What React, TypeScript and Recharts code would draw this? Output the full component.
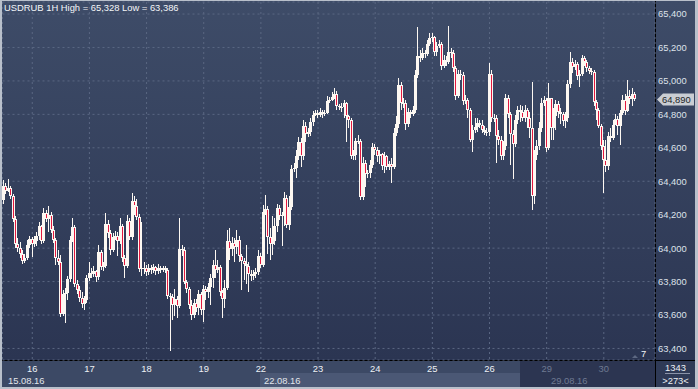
import { Bar, CartesianGrid, ComposedChart, XAxis, YAxis } from 'recharts';

// hourly USDRUB candles, 15.08 (from 12:00) to 30.08 (till 13:00)
const dayLabels = ['15', '16', '17', '18', '19', '22', '23', '24', '25', '26', '29', '30'];
const candlesPerDay = [12, 24, 24, 24, 24, 24, 24, 24, 24, 24, 24, 14];
const firstHour = [12, 0, 0, 0, 0, 0, 0, 0, 0, 0, 0, 0];

const firstOpen = 64288;

const closes = [
	64372, 64342, 64360, 64312, 64175, 64025, 64001, 63965, 63923, 63941, 64019, 64055,
	64025, 64043, 64073, 64133, 64043, 64210, 64175, 64199, 64109, 64049, 63941, 63918, 63607, 63726, 63732, 63816, 64049, 64127, 63786, 63750, 63702, 63666, 63690, 63822,
	63852, 63846, 63864, 63828, 63977, 63888, 63894, 64145, 64091, 63989, 64067, 64073, 64043, 64133, 63941, 63894, 64163, 64067, 64282, 64252, 64187, 63876, 63882, 63882,
	63858, 63882, 63870, 63888, 63864, 63882, 63870, 63882, 63870, 63714, 63708, 63660, 63696, 63654, 63995, 63989, 63798, 63756, 63660, 63601, 63672, 63642, 63726, 63631,
	63756, 63738, 63768, 63822, 63900, 63870, 63888, 63738, 63696, 63762, 64043, 63995, 64031, 64007, 64049, 63953, 63923, 63906, 63894, 63846, 63834, 63846, 63858, 63953,
	63900, 64216, 64234, 64067, 64025, 64043, 64133, 64240, 64193, 64199, 64300, 64139, 64246, 64474, 64480, 64551, 64635, 64551, 64731, 64683, 64695, 64755, 64796, 64808,
	64796, 64814, 64802, 64808, 64880, 64886, 64904, 64922, 64850, 64844, 64844, 64868, 64790, 64767, 64551, 64557, 64641, 64641, 64306, 64509, 64444, 64450, 64497, 64605,
	64587, 64551, 64563, 64491, 64551, 64486, 64503, 64486, 64689, 64743, 64976, 64868, 64868, 64743, 64814, 64802, 64826, 65036, 65149, 65137, 65167, 65161, 65221, 65257,
	65263, 65173, 65209, 65221, 65089, 65125, 65113, 65173, 65167, 65077, 64910, 65042, 65036, 64880, 64886, 64826, 64647, 64706, 64725, 64749, 64737, 64706, 64695, 64695,
	65042, 64778, 64778, 64671, 64647, 64551, 64611, 64898, 64802, 64683, 64623, 64767, 64826, 64814, 64778, 64826, 64778, 64719, 64312, 64557, 64611, 64719, 64868, 64886,
	64599, 64898, 64719, 64790, 64862, 64814, 64802, 64761, 64778, 64982, 65113, 65083, 65101, 65030, 65042, 65137, 65113, 65077, 65059, 65054, 64874, 64826, 64731, 64611,
	64527, 64491, 64671, 64659, 64737, 64772, 64731, 64808, 64886, 64820, 64910, 64892, 64922, 64890
];

const highs = [
	64408, 64390, 64414, 64372, 64324, 64193, 64061, 64037, 63989, 63965, 64049, 64073,
	64067, 64073, 64097, 64157, 64139, 64240, 64228, 64252, 64216, 64133, 64061, 63989, 63959, 63750, 63762, 63834, 64073, 64181, 64139, 63810, 63774, 63738, 63714, 63840,
	63918, 63882, 63894, 63870, 64019, 63989, 63918, 64210, 64169, 64109, 64091, 64103, 64097, 64181, 64145, 63959, 64199, 64181, 64330, 64312, 64294, 64204, 64157, 63918,
	63900, 63906, 63900, 63906, 63894, 63906, 63894, 63894, 63894, 63882, 63732, 63726, 63756, 63714, 64181, 64019, 64007, 63810, 63768, 63690, 63696, 63696, 63750, 63738,
	63780, 63774, 63792, 63846, 63929, 63989, 63929, 63900, 63750, 63810, 64109, 64121, 64067, 64061, 64109, 64073, 63965, 63941, 64019, 63918, 63870, 63870, 63882, 63989,
	63971, 64258, 64318, 64252, 64121, 64193, 64181, 64264, 64258, 64216, 64336, 64318, 64312, 64497, 64509, 64587, 64665, 64659, 64767, 64755, 64719, 64778, 64820, 64826,
	64826, 64838, 64826, 64826, 64910, 64904, 64934, 64958, 64940, 64862, 64868, 64886, 64874, 64796, 64778, 64587, 64659, 64677, 64653, 64545, 64527, 64467, 64527, 64629,
	64623, 64605, 64587, 64569, 64575, 64557, 64521, 64539, 64719, 64790, 65018, 64994, 64898, 64886, 64838, 64826, 64850, 65065, 65323, 65185, 65197, 65185, 65245, 65287,
	65287, 65269, 65233, 65245, 65233, 65155, 65149, 65328, 65197, 65185, 65089, 65065, 65065, 65054, 64916, 64898, 64838, 64737, 64778, 64778, 64767, 64767, 64731, 64719,
	65107, 65065, 64802, 64796, 64706, 64671, 64641, 64922, 64916, 64814, 64706, 64796, 64850, 64856, 64850, 64856, 64838, 64814, 64994, 64587, 64647, 64755, 64898, 64910,
	64898, 64988, 64826, 64838, 64886, 64880, 64838, 64814, 64814, 65006, 65173, 65137, 65125, 65113, 65065, 65155, 65149, 65125, 65089, 65077, 65065, 64886, 64838, 64743,
	64647, 64647, 64695, 64719, 64767, 64802, 64790, 64826, 64916, 64922, 65006, 64946, 64958, 64934
];

const lows = [
	64264, 64324, 64336, 64294, 64157, 64001, 63977, 63941, 63906, 63912, 63929, 64001,
	63947, 64007, 64013, 64049, 64025, 64031, 64157, 64097, 64091, 64031, 63900, 63900, 63589, 63595, 63553, 63690, 63798, 64037, 63768, 63726, 63678, 63642, 63631, 63672,
	63804, 63822, 63828, 63798, 63810, 63870, 63864, 63882, 64061, 63959, 63977, 64049, 63953, 64025, 63918, 63822, 63882, 64049, 64049, 64200, 64169, 63858, 63834, 63846,
	63834, 63840, 63846, 63852, 63840, 63846, 63852, 63858, 63852, 63696, 63386, 63570, 63595, 63583, 63642, 63953, 63786, 63732, 63636, 63570, 63583, 63619, 63601, 63601,
	63559, 63690, 63702, 63660, 63762, 63822, 63852, 63714, 63583, 63642, 63750, 63929, 63953, 63918, 63965, 63918, 63750, 63810, 63786, 63738, 63804, 63810, 63822, 63839,
	63882, 63888, 64199, 63965, 63929, 63959, 64019, 64097, 64169, 64013, 64133, 64121, 64109, 64228, 64456, 64420, 64527, 64485, 64527, 64635, 64665, 64671, 64731, 64790,
	64778, 64784, 64778, 64790, 64802, 64868, 64880, 64892, 64826, 64826, 64814, 64778, 64635, 64719, 64533, 64527, 64527, 64623, 64288, 64288, 64366, 64420, 64420, 64480,
	64557, 64515, 64503, 64467, 64450, 64467, 64467, 64390, 64474, 64671, 64719, 64826, 64838, 64706, 64725, 64778, 64790, 64808, 65018, 65113, 65125, 65137, 65149, 65209,
	65233, 65149, 65149, 65197, 65065, 65077, 65089, 65101, 65137, 65054, 64886, 64898, 65006, 64856, 64862, 64778, 64635, 64575, 64689, 64695, 64719, 64689, 64677, 64671,
	64671, 64754, 64754, 64509, 64617, 64527, 64527, 64587, 64778, 64497, 64414, 64605, 64743, 64754, 64760, 64754, 64719, 64659, 64228, 64264, 64527, 64587, 64695, 64850,
	64575, 64587, 64647, 64647, 64706, 64778, 64743, 64731, 64719, 64754, 64958, 65048, 65065, 65006, 64964, 65030, 65089, 65054, 65042, 65036, 64850, 64766, 64719, 64587,
	64330, 64456, 64467, 64635, 64647, 64743, 64677, 64617, 64796, 64796, 64814, 64862, 64850, 64880
];

const priceTicks = [63400, 63600, 63800, 64000, 64200, 64400, 64600, 64800, 65000, 65200, 65400];
const lastPrice = 64890;
const emptySlots = 8; // free space right of the last candle

const FONT = '"Liberation Sans", Arial, sans-serif';
const WHITE = '#fdf8f2';
const RED = '#e3173e';

type Candle = { key: string; day?: string; hour?: number; o?: number; c?: number; h?: number; l?: number };

function buildCandles(): Candle[] {
	const rows: Candle[] = [];
	let n = 0;
	dayLabels.forEach((day, d) => {
		for (let k = 0; k < candlesPerDay[d]; k++) {
			const o = n === 0 ? firstOpen : closes[n - 1];
			const c = closes[n];
			const hour = firstHour[d] + k;
			rows.push({
				key: `${day}-${hour}`,
				day,
				hour,
				o,
				c,
				h: Math.max(highs[n], o, c),
				l: Math.min(lows[n], o, c)
			});
			n++;
		}
	});
	for (let k = 0; k < emptySlots; k++) {
		rows.push({ key: `empty${k}` });
	}
	return rows;
}

const candles = buildCandles();
const dayTicks = candles.filter((d) => d.hour === 0).map((d) => d.key);

function CandleShape(props: any) {
	const { x, y, width, height, payload } = props;
	if (!payload || payload.h == null || !height) {
		return null;
	}
	const { o, c, h, l } = payload;
	const k = height / (h - l);
	const yOf = (v: number) => y + (h - v) * k;
	const cx = Math.floor(x + width / 2);
	const top = Math.round(yOf(Math.max(o, c)));
	const bottom = Math.max(Math.round(yOf(Math.min(o, c))), top + 1);
	const wickTop = Math.round(y);
	const wickBottom = Math.max(Math.round(y + height), wickTop + 1);
	const bear = c < o;

	return (
		<g shapeRendering="crispEdges">
			<rect x={cx} y={wickTop} width={1} height={wickBottom - wickTop} fill={WHITE} />
			<rect x={cx - 1} y={top} width={3} height={bottom - top} fill={WHITE} />
			{bear && bottom - top > 2 ? (
				<rect x={cx} y={top + 1} width={1} height={bottom - top - 2} fill={RED} />
			) : null}
		</g>
	);
}

function DayTick({ x, payload }: any) {
	const day = String(payload.value).split('-')[0];
	const dim = day === '29' || day === '30';
	return (
		<text x={x} y={372} textAnchor="middle" fill={dim ? '#6f7a92' : '#eef1f5'} fontSize={9.4} fontFamily={FONT}>
			{day}
		</text>
	);
}

function PriceTick({ y, payload }: any) {
	return (
		<text x={658} y={y + 3.4} fill="#dde2ea" fontSize={9.4} fontFamily={FONT}>
			{Number(payload.value).toLocaleString('en-US')}
		</text>
	);
}

const abs = (left: number, top: number, width: number, height: number, background: string) => ({
	position: 'absolute' as const,
	left,
	top,
	width,
	height,
	background
});

const label = (left: number, top: number, color: string) => ({
	position: 'absolute' as const,
	left,
	top,
	color,
	fontSize: 9.4,
	fontFamily: FONT,
	lineHeight: '11px',
	whiteSpace: 'nowrap' as const
});

export default function App() {
	return (
		<div
			style={{
				position: 'fixed',
				left: 0,
				top: 0,
				width: 698,
				height: 389,
				overflow: 'hidden',
				background: '#b9c0cb'
			}}
		>
			<div style={abs(2, 1, 653, 359, 'linear-gradient(#3e4c68, #2b3552)')} />
			<div style={abs(656, 1, 39, 359, 'linear-gradient(#3e4c68, #2b3552)')} />
			<div style={abs(2, 361, 653, 26, '#3c4965')} />
			<div style={abs(260, 373, 260, 14, '#4b5875')} />
			<div style={abs(520, 361, 135, 26, '#2c3551')} />
			<div style={abs(656, 361, 39, 26, '#2f3a56')} />
			<div style={abs(2, 360, 693, 1, '#000')} />
			<div style={abs(655, 1, 1, 386, '#000')} />

			<div style={{ position: 'absolute', left: 0, top: 0 }}>
				<ComposedChart
					width={698}
					height={389}
					data={candles}
					margin={{ top: 2, right: 0, bottom: 0, left: 2.5 }}
					barCategoryGap={0}
					barGap={0}
				>
					<CartesianGrid stroke="#5a6782" strokeDasharray="2 3" />
					<XAxis
						dataKey="key"
						ticks={dayTicks}
						interval={0}
						height={29}
						axisLine={false}
						tickLine={false}
						tick={<DayTick />}
					/>
					<YAxis
						orientation="right"
						type="number"
						domain={[63331, 65472]}
						allowDataOverflow
						ticks={priceTicks}
						width={43}
						axisLine={false}
						tickLine={false}
						tick={<PriceTick />}
					/>
					<Bar
						dataKey={(d: Candle) => (d.h == null ? null : [d.l, d.h])}
						shape={<CandleShape />}
						isAnimationActive={false}
					/>
				</ComposedChart>
			</div>

			<div style={label(4, 2, '#f4f6f8')}>USDRUB 1H High = 65,328 Low = 63,386</div>
			<div style={label(8, 375, '#e2e6ec')}>15.08.16</div>
			<div style={label(264, 375, '#e2e6ec')}>22.08.16</div>
			<div style={label(551, 375, '#6f7a92')}>29.08.16</div>
			<div style={{ ...label(656, 362, '#eef1f5'), width: 39, textAlign: 'center' }}>1343</div>
			<div style={abs(665, 373, 25, 1, '#8a93a8')} />
			<div style={{ ...label(656, 375, '#eef1f5'), width: 39, textAlign: 'center' }}>&gt;273&lt;</div>
			<div style={label(641, 348, '#f4f6f8')}>7</div>

			<svg style={{ position: 'absolute', left: 0, top: 0 }} width={698} height={389}>
				<polygon points="632,358 635,355 638,358" fill="#5d6882" />
				<polygon points="657,99.5 663,93.5 694,93.5 694,105.5 663,105.5" fill="#c9cdd3" />
				<text x={662} y={103} fill="#1c1f26" fontSize={9.4} fontFamily={FONT}>
					{lastPrice.toLocaleString('en-US')}
				</text>
			</svg>
		</div>
	);
}
